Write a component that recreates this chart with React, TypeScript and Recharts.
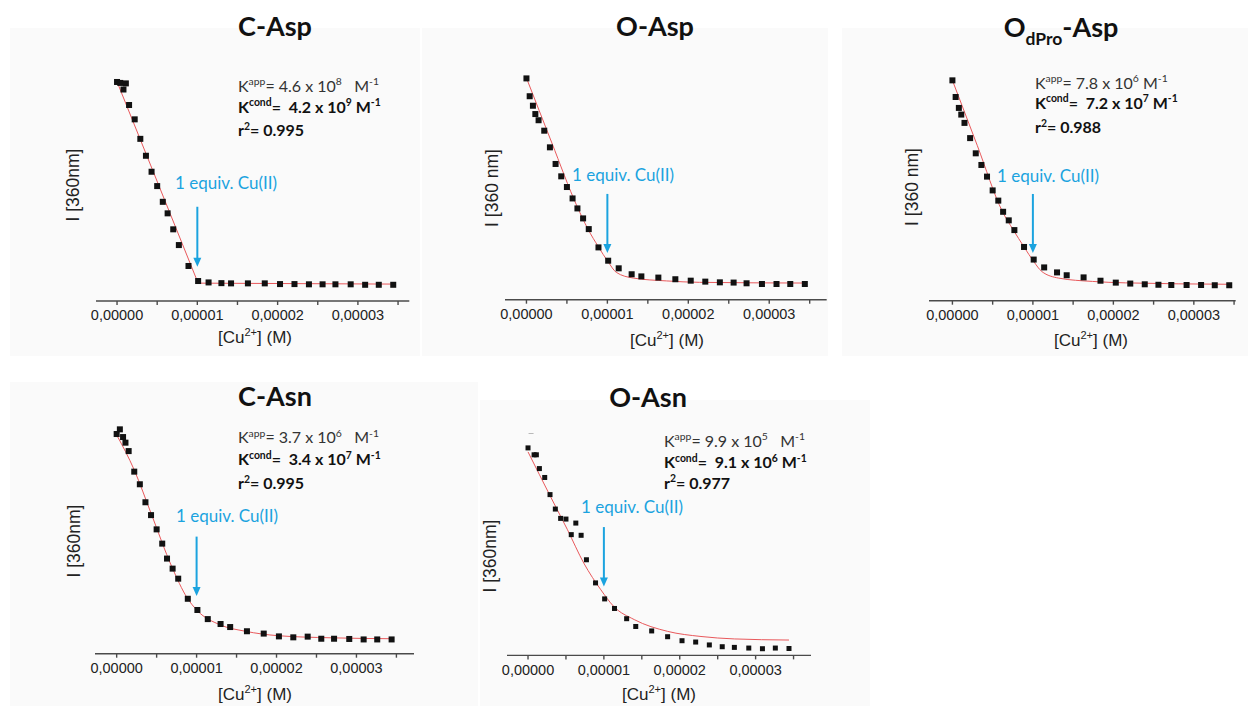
import React from "react";
import { ComposedChart, Line, Scatter, XAxis, YAxis, ReferenceLine } from "recharts";

// [Cu2+] added, in µM (same titration for every peptide)
const CONC_UM = [0, 0.4, 0.8, 1.1, 1.5, 2.2, 2.9, 3.6, 4.3, 5.0, 5.7, 6.3, 7.0, 7.7, 8.9, 10.1, 11.4, 13.0, 14.2, 16.3, 18.4, 20.3, 22.1, 23.9, 25.6, 27.2, 29.1, 30.9, 32.6, 34.4];

// fluorescence at 360 nm, relative units
const C_ASP = [93.2, 92.8, 90.0, 92.6, 83.4, 77.3, 69.0, 61.8, 55.0, 48.9, 42.2, 37.3, 30.5, 23.8, 14.9, 8.5, 7.9, 7.6, 7.5, 7.5, 7.5, 7.2, 7.2, 7.1, 7.1, 7.1, 7.1, 6.9, 6.9, 6.9];
const O_ASP = [93.1, 85.6, 81.6, 78.1, 75.5, 71.1, 64.1, 57.1, 51.9, 47.4, 42.6, 38.4, 34.2, 29.7, 22.0, 16.4, 13.2, 10.7, 9.8, 9.3, 8.6, 8.0, 7.6, 7.3, 7.2, 6.9, 6.6, 6.6, 6.6, 6.6];
const ODPRO_ASP = [92.7, 85.7, 81.1, 78.3, 74.8, 68.4, 62.0, 57.1, 52.2, 46.4, 42.1, 37.4, 33.8, 29.7, 22.6, 17.3, 14.0, 11.9, 10.7, 9.8, 8.4, 7.6, 7.2, 6.9, 6.7, 6.6, 6.6, 6.6, 6.5, 6.5];
const C_ASN = [94.0, 96.0, 92.7, 90.3, 86.7, 77.9, 72.5, 64.8, 59.3, 53.2, 47.1, 40.7, 36.4, 32.1, 23.5, 18.7, 14.8, 12.7, 11.4, 9.6, 8.6, 7.4, 7.0, 7.3, 6.4, 6.4, 6.3, 6.1, 6.1, 6.1];
const O_ASN = [93.3, 101, 90.2, 90.2, 84.0, 80.0, 72.3, 65.8, 61.6, 61.3, 54.3, 59.5, 54.0, 43.0, 32.6, 25.4, 21.1, 16.5, 13.0, 11.0, 8.4, 6.6, 6.0, 4.7, 3.9, 3.6, 3.3, 3.0, 3.3, 3.1];

// fitted curves
const C_ASP_FIT_X = [0, 10.1, 34.4];
const C_ASP_FIT_Y = [93.3, 7.6, 7.2];
const O_ASP_FIT_X = [0, 3.1, 6.25, 7.6, 8.9, 10.1, 11.1, 13.2, 17.3, 21.4, 34.6];
const O_ASP_FIT_Y = [93.3, 66.3, 39.3, 29.7, 22.2, 15.9, 11.5, 9.1, 7.9, 7.3, 7.0];
const ODPRO_ASP_FIT_X = [0, 3.1, 6.2, 7.54, 8.9, 10.1, 11.1, 13.2, 17.4, 21.5, 34.6];
const ODPRO_ASP_FIT_Y = [92.7, 65.2, 37.6, 29.9, 22.6, 16.5, 12.3, 9.5, 8.1, 7.5, 6.9];
const C_ASN_FIT_X = [0, 2.2, 4.3, 6.9, 8.8, 10.1, 12.9, 16.1, 20.2, 26.8, 34.4];
const C_ASN_FIT_Y = [93.6, 78.6, 60.1, 37.2, 24.0, 18.4, 12.4, 9.6, 7.7, 6.8, 6.4];
const O_ASN_FIT_X = [0, 2.95, 5.2, 7.35, 9.6, 11.3, 14.0, 18.4, 22.8, 27.2, 34.4];
const O_ASN_FIT_Y = [91.5, 71.5, 56.5, 41.5, 29.5, 22.0, 16.1, 10.8, 8.5, 7.4, 6.9];

const X_TICKS = [0, 5, 10, 15, 20, 25, 30, 35];
const LABELED_TICKS = [0, 10, 20, 30];

const BLUE = "#1ba3df";
const AXIS = "#4a4a4a";
const SANS = "'Liberation Sans', Arial, sans-serif";
const CAL = "Lato, 'Open Sans', sans-serif";

type Part = [string, "n" | "sup" | "sub"];

const fmtM = (v: number) => (v / 1e6).toFixed(5).replace(".", ",");

function Rich({ x, y, parts, size, weight = 400, fill = "#222", anchor = "start", family = CAL }: any) {
  let prev = 0;
  return (
    <text x={x} y={y} fontSize={size} fontWeight={weight} fill={fill} textAnchor={anchor} fontFamily={family} style={{ whiteSpace: "pre" }}>
      {parts.map(([t, m]: Part, i: number) => {
        const shift = m === "sup" ? -0.4 * size : m === "sub" ? 0.3 * size : 0;
        const dy = shift - prev;
        prev = shift;
        return (
          <tspan key={i} dy={dy} fontSize={m === "n" ? size : size * 0.65}>
            {t}
          </tspan>
        );
      })}
    </text>
  );
}

const Tick = (props: any) => {
  const { x, y, payload } = props;
  if (!LABELED_TICKS.includes(payload.value)) return <g />;
  return (
    <text x={x} y={y + 13.5} textAnchor="middle" fontSize={14.5} fontFamily={SANS} fill="#222">
      {fmtM(payload.value)}
    </text>
  );
};

const Arrow = (props: any) => {
  const { x1, y1, x2, y2 } = props;
  return (
    <g>
      <line x1={x1} y1={y1} x2={x2} y2={y2 - 7} stroke={BLUE} strokeWidth={2} />
      <polygon points={`${x2 - 4},${y2 - 9} ${x2 + 4},${y2 - 9} ${x2},${y2}`} fill={BLUE} />
    </g>
  );
};

const PANELS = [
  {
    key: "c-asp", title: [["C-Asp", "n"]], titleX: 275, titleY: 36,
    yLabel: "I [360nm]", yLabelX: 73, yLabelY: 185, xTitleX: 255, xTitleY: 343,
    axisX: 95.7, top: 66, bottom: 301, right: 409, domain: [-2.62, 36.4],
    values: C_ASP, fitX: C_ASP_FIT_X, fitY: C_ASP_FIT_Y, fitType: "linear", sq: 6,
    arrow: [40.1, 14.6], eqX: 175, eqY: 189,
    k: { x: 238, ys: [91.5, 112.5, 136], kapp: ["4.6", "8", "   "], kcond: ["4.2", "9"], r2: "0.995" },
  },
  {
    key: "o-asp", title: [["O-Asp", "n"]], titleX: 655, titleY: 36,
    yLabel: "I [360 nm]", yLabelX: 492, yLabelY: 188, xTitleX: 667, xTitleY: 346,
    axisX: 505.3, top: 62.3, bottom: 300, right: 827, domain: [-2.65, 37.1],
    values: O_ASP, fitX: O_ASP_FIT_X, fitY: O_ASP_FIT_Y, fitType: "monotone", sq: 6,
    arrow: [44.5, 19.6], eqX: 572, eqY: 181,
    k: null,
  },
  {
    key: "odpro-asp", title: [["O", "n"], ["dPro", "sub"], ["-Asp", "n"]], titleX: 1061, titleY: 37,
    yLabel: "I [360 nm]", yLabelX: 912, yLabelY: 187, xTitleX: 1091, xTitleY: 346,
    axisX: 929.3, top: 63.3, bottom: 301, right: 1236, domain: [-2.91, 35.2],
    values: ODPRO_ASP, fitX: ODPRO_ASP_FIT_X, fitY: ODPRO_ASP_FIT_Y, fitType: "monotone", sq: 6,
    arrow: [44.9, 20.1], eqX: 997, eqY: 182,
    k: { x: 1035, ys: [88.5, 108.5, 133], kapp: ["7.8", "6", " "], kcond: ["7.2", "7"], r2: "0.988" },
  },
  {
    key: "c-asn", title: [["C-Asn", "n"]], titleX: 275, titleY: 406,
    yLabel: "I [360nm]", yLabelX: 74, yLabelY: 541, xTitleX: 255, xTitleY: 700,
    axisX: 95, top: 420, bottom: 653.7, right: 414, domain: [-2.71, 37.2],
    values: C_ASN, fitX: C_ASN_FIT_X, fitY: C_ASN_FIT_Y, fitType: "monotone", sq: 6,
    arrow: [50.1, 24.7], eqX: 176, eqY: 522,
    k: { x: 238, ys: [443, 465, 489], kapp: ["3.7", "6", "   "], kcond: ["3.4", "7"], r2: "0.995" },
  },
  {
    key: "o-asn", title: [["O-Asn", "n"]], titleX: 648, titleY: 407,
    yLabel: "I [360nm]", yLabelX: 490, yLabelY: 556, xTitleX: 659, xTitleY: 700,
    axisX: 506.7, top: 433.3, bottom: 655.7, right: 810.7, domain: [-2.77, 37.3],
    values: O_ASN, fitX: O_ASN_FIT_X, fitY: O_ASN_FIT_Y, fitType: "monotone", sq: 5,
    arrow: [57.7, 31.0], eqX: 581, eqY: 513,
    k: { x: 664, ys: [446.5, 468, 488.5], kapp: ["9.9", "5", "   "], kcond: ["9.1", "6"], r2: "0.977" },
  },
];

const BACKGROUNDS = [
  { left: 10, top: 28, width: 410, height: 328 },
  { left: 422, top: 28, width: 406, height: 328 },
  { left: 842, top: 28, width: 406, height: 328 },
  { left: 10, top: 382, width: 468, height: 324 },
  { left: 480, top: 400, width: 390, height: 306 },
];

function Panel({ p }: any) {
  const ML = 10, MT = 6, MR = 4, XH = 34;
  const w = p.right - p.axisX + ML + MR;
  const h = p.bottom - p.top + MT + XH;
  const points = CONC_UM.map((x, i) => ({ x, y: p.values[i] }));
  const fit = p.fitX.map((x: number, i: number) => ({ x, y: p.fitY[i] }));
  const s = p.sq;
  return (
    <div style={{ position: "absolute", left: p.axisX - ML, top: p.top - MT }}>
      <ComposedChart width={w} height={h} margin={{ top: MT, right: MR, left: ML, bottom: 0 }}>
        <XAxis
          type="number"
          dataKey="x"
          domain={p.domain}
          ticks={X_TICKS}
          interval={0}
          allowDataOverflow
          height={XH}
          tickSize={4}
          stroke={AXIS}
          strokeWidth={1.4}
          tick={Tick}
        />
        <YAxis type="number" domain={[0, 100]} allowDataOverflow width={0} tick={false} tickLine={false} stroke={AXIS} strokeWidth={1.4} />
        <Line data={fit} dataKey="y" type={p.fitType} stroke="#e8575a" strokeWidth={1} dot={false} isAnimationActive={false} />
        <Scatter
          data={points}
          dataKey="y"
          fill="#111"
          isAnimationActive={false}
          shape={(sp: any) => <rect x={sp.cx - s / 2} y={sp.cy - s / 2} width={s} height={s} fill="#111" />}
        />
        <ReferenceLine
          segment={[{ x: 10, y: p.arrow[0] }, { x: 10, y: p.arrow[1] }]}
          shape={Arrow}
          ifOverflow="visible"
        />
      </ComposedChart>
    </div>
  );
}

export default function App() {
  return (
    <div style={{ position: "absolute", left: 0, top: 0, width: 1248, height: 706, background: "#fff", overflow: "hidden" }}>
      {BACKGROUNDS.map((b, i) => (
        <div key={i} style={{ position: "absolute", ...b, background: "#fafafa" }} />
      ))}
      {PANELS.map((p) => (
        <Panel key={p.key} p={p} />
      ))}
      <svg width={1248} height={706} style={{ position: "absolute", left: 0, top: 0, pointerEvents: "none" }}>
        {PANELS.map((p: any) => (
          <g key={p.key}>
            <Rich x={p.titleX} y={p.titleY} parts={p.title} size={27} weight={700} fill="#111" anchor="middle" />
            <text
              x={p.yLabelX}
              y={p.yLabelY}
              fontSize={17.5}
              fontFamily={SANS}
              fill="#222"
              textAnchor="middle"
              dominantBaseline="central"
              transform={`rotate(-90 ${p.yLabelX} ${p.yLabelY})`}
            >
              {p.yLabel}
            </text>
            <Rich
              x={p.xTitleX}
              y={p.xTitleY}
              parts={[["[Cu", "n"], ["2+", "sup"], ["] (M)", "n"]]}
              size={17}
              family={SANS}
              anchor="middle"
            />
            <text x={p.eqX} y={p.eqY} fontSize={17} fontFamily={CAL} fill={BLUE}>
              1 equiv. Cu(II)
            </text>
            {p.k && (
              <g>
                <Rich
                  x={p.k.x}
                  y={p.k.ys[0]}
                  size={16}
                  fill="#333"
                  parts={[["K", "n"], ["app", "sup"], [`= ${p.k.kapp[0]} x 10`, "n"], [p.k.kapp[1], "sup"], [`${p.k.kapp[2]}M`, "n"], ["-1", "sup"]]}
                />
                <Rich
                  x={p.k.x}
                  y={p.k.ys[1]}
                  size={16}
                  weight={700}
                  fill="#111"
                  parts={[["K", "n"], ["cond", "sup"], [`=  ${p.k.kcond[0]} x 10`, "n"], [p.k.kcond[1], "sup"], [" M", "n"], ["-1", "sup"]]}
                />
                <Rich
                  x={p.k.x}
                  y={p.k.ys[2]}
                  size={16}
                  weight={700}
                  fill="#111"
                  parts={[["r", "n"], ["2", "sup"], [`= ${p.k.r2}`, "n"]]}
                />
              </g>
            )}
          </g>
        ))}
      </svg>
    </div>
  );
}
